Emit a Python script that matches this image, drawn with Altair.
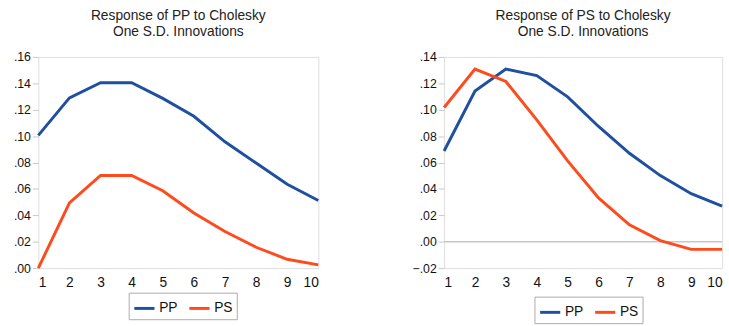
import altair as alt
import pandas as pd

periods = [1, 2, 3, 4, 5, 6, 7, 8, 9, 10]
series_names = ["PP", "PS"]

# Response of PP
pp_resp_pp = [0.1006, 0.129, 0.1404, 0.1404, 0.1286, 0.115, 0.0957, 0.0796, 0.0635, 0.0512]
pp_resp_ps = [0.0, 0.0494, 0.0702, 0.0702, 0.0586, 0.0418, 0.0277, 0.0158, 0.0067, 0.0025]

# Response of PS
ps_resp_pp = [0.0687, 0.1142, 0.1308, 0.1259, 0.1097, 0.0873, 0.0670, 0.0501, 0.0364, 0.0270]
ps_resp_ps = [0.1017, 0.1308, 0.1214, 0.0923, 0.0612, 0.0332, 0.0128, 0.0009, -0.0058, -0.0058]

titles = [["Response of PP to Cholesky", "One S.D. Innovations"],
          ["Response of PS to Cholesky", "One S.D. Innovations"]]

left_ticks = [0, 0.02, 0.04, 0.06, 0.08, 0.10, 0.12, 0.14, 0.16]
right_ticks = [-0.02, 0, 0.02, 0.04, 0.06, 0.08, 0.10, 0.12, 0.14]

colors = ["#1F4FA0", "#FF4A1C"]
FONT = "Liberation Sans"
GRAY = "#c8c8c8"


def long_df(a, b):
    rows = []
    for name, vals in zip(series_names, [a, b]):
        for p, v in zip(periods, vals):
            rows.append({"period": p, "value": v, "series": name})
    return pd.DataFrame(rows)


label_expr = "replace(format(datum.value, '.2f'), '0.', '.')"


def panel(df, title, ydom, yvals, w, h, legend_x, legend_y, zero_line):
    yaxis = alt.Axis(values=yvals, title=None, grid=False, labelExpr=label_expr,
                     tickSize=6, tickColor=GRAY, domain=False,
                     labelFontSize=12.5, labelColor="#111", labelPadding=2,
                     labelFont=FONT, minExtent=30, maxExtent=30,
                     labelOverlap=False)
    yscale = alt.Scale(domain=ydom, nice=False)
    base = alt.Chart(df)
    lines = base.mark_line(strokeWidth=3).encode(
        x=alt.X("period:Q", scale=alt.Scale(domain=[1, 10], nice=False, zero=False),
                axis=alt.Axis(values=periods, title=None, grid=False, ticks=False,
                              domain=False, labelFontSize=14, labelColor="#111",
                              labelPadding=8, labelFont=FONT, labelOverlap=False)),
        y=alt.Y("value:Q", scale=yscale, axis=yaxis),
        color=alt.Color("series:N", scale=alt.Scale(domain=series_names, range=colors),
                        legend=alt.Legend(orient="none", legendX=legend_x, legendY=legend_y,
                                          direction="horizontal", title=None,
                                          symbolType="stroke", symbolStrokeWidth=3,
                                          symbolSize=420, labelFontSize=14,
                                          labelFont=FONT, labelColor="#111",
                                          strokeColor="#aaaaaa", padding=4,
                                          columnPadding=5, labelOffset=3)),
    )
    layers = []
    if zero_line:
        zl = alt.Chart(pd.DataFrame({"value": [0]})).mark_rule(color=GRAY, strokeWidth=1.5).encode(
            y=alt.Y("value:Q", scale=yscale, axis=yaxis))
        layers.append(zl)
    layers.append(lines)
    return alt.layer(*layers).properties(
        width=w, height=h,
        title=alt.TitleParams(text=title, font=FONT, fontSize=14, fontWeight="normal",
                              color="#222", lineHeight=17, offset=12, frame="group",
                              anchor="middle"))


left = panel(long_df(pp_resp_pp, pp_resp_ps), titles[0], [0, 0.16],
             left_ticks, 285, 215, 92, 240, False)
right = panel(long_df(ps_resp_pp, ps_resp_ps), titles[1], [-0.02, 0.14],
              right_ticks, 283, 215, 92, 244, True)

chart = alt.hconcat(left, right, spacing=87).resolve_scale(
    color="independent", y="independent", x="independent"
).properties(
    padding={"left": 8, "top": 5, "right": 0, "bottom": 0}
).configure_view(stroke=GRAY, strokeWidth=1.5).configure(background="white")

chart.save("out.html", embed_options={"renderer": "svg", "actions": False})
